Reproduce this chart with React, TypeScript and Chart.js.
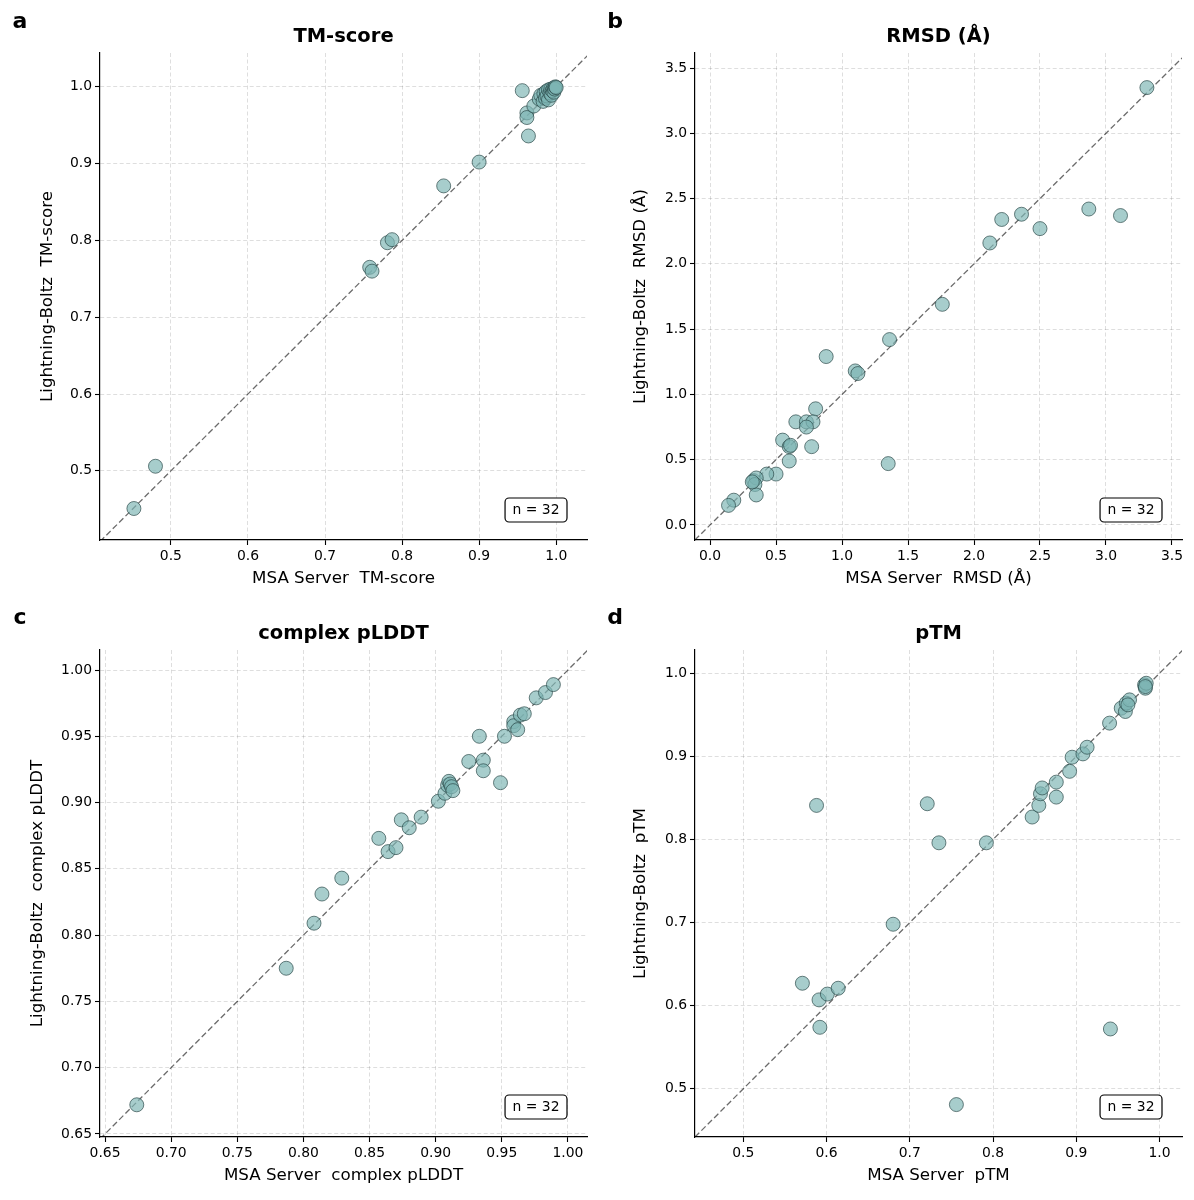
import React, { useEffect, useRef } from 'react';
import { Chart, registerables } from 'chart.js';

Chart.register(...registerables);

// ---------- Panel a: TM-score ----------
const tmMsa = [0.452, 0.480, 0.758, 0.761, 0.781, 0.787, 0.854, 0.900, 0.956, 0.962, 0.962, 0.964, 0.971,
  0.978, 0.980, 0.983, 0.984, 0.986, 0.987, 0.988, 0.990, 0.990, 0.992, 0.993, 0.994, 0.995, 0.996, 0.997, 0.998, 0.998, 0.999, 1.000];
const tmBoltz = [0.451, 0.506, 0.765, 0.760, 0.797, 0.801, 0.871, 0.902, 0.995, 0.966, 0.960, 0.936, 0.975,
  0.984, 0.989, 0.981, 0.991, 0.985, 0.994, 0.988, 0.996, 0.983, 0.992, 0.997, 0.989, 0.995, 0.998, 0.993, 0.999, 0.997, 1.000, 0.999];
const tmTicks = [0.5, 0.6, 0.7, 0.8, 0.9, 1.0];
const tmXRange = [0.408, 1.040];
const tmYRange = [0.410, 1.044];

// ---------- Panel b: RMSD ----------
const rmsdMsa = [3.31, 2.87, 3.11, 2.50, 2.36, 2.21, 2.12, 1.76, 1.36, 0.88, 1.10, 1.12, 0.80, 0.65, 0.73, 0.78,
  0.73, 0.55, 0.60, 0.61, 0.77, 0.60, 1.35, 0.50, 0.43, 0.33, 0.35, 0.34, 0.35, 0.18, 0.14, 0.32];
const rmsdBoltz = [3.35, 2.42, 2.37, 2.27, 2.38, 2.34, 2.16, 1.69, 1.42, 1.29, 1.18, 1.16, 0.89, 0.79, 0.79, 0.79,
  0.75, 0.65, 0.60, 0.61, 0.60, 0.49, 0.47, 0.39, 0.39, 0.34, 0.36, 0.31, 0.23, 0.19, 0.15, 0.33];
const rmsdTicks = [0.0, 0.5, 1.0, 1.5, 2.0, 2.5, 3.0, 3.5];
const rmsdXRange = [-0.114, 3.576];
const rmsdYRange = [-0.115, 3.615];

// ---------- Panel c: complex pLDDT ----------
const plddtMsa = [0.674, 0.787, 0.808, 0.814, 0.829, 0.857, 0.864, 0.870, 0.874, 0.880, 0.889, 0.902, 0.907, 0.909,
  0.910, 0.911, 0.912, 0.913, 0.925, 0.936, 0.936, 0.933, 0.949, 0.952, 0.959, 0.959, 0.962, 0.964, 0.967, 0.976, 0.983, 0.989];
const plddtBoltz = [0.672, 0.775, 0.809, 0.831, 0.843, 0.873, 0.863, 0.866, 0.887, 0.881, 0.889, 0.901, 0.907, 0.913,
  0.916, 0.914, 0.912, 0.909, 0.931, 0.932, 0.924, 0.950, 0.915, 0.950, 0.961, 0.958, 0.955, 0.966, 0.967, 0.979, 0.983, 0.989];
const plddtTicks = [0.65, 0.70, 0.75, 0.80, 0.85, 0.90, 0.95, 1.00];
const plddtXRange = [0.6462, 1.0144];
const plddtYRange = [0.6477, 1.0151];

// ---------- Panel d: pTM ----------
const ptmMsa = [0.588, 0.721, 0.735, 0.792, 0.680, 0.571, 0.591, 0.601, 0.614, 0.592, 0.756, 0.941, 0.847, 0.855,
  0.857, 0.859, 0.876, 0.876, 0.892, 0.895, 0.908, 0.913, 0.940, 0.954, 0.959, 0.960, 0.964, 0.962, 0.982, 0.983, 0.984, 0.983];
const ptmBoltz = [0.841, 0.843, 0.796, 0.796, 0.698, 0.627, 0.607, 0.614, 0.621, 0.574, 0.481, 0.572, 0.827, 0.841,
  0.855, 0.862, 0.851, 0.869, 0.882, 0.899, 0.903, 0.911, 0.940, 0.958, 0.954, 0.964, 0.968, 0.962, 0.986, 0.982, 0.988, 0.984];
const ptmTicks = [0.5, 0.6, 0.7, 0.8, 0.9, 1.0];
const ptmXRange = [0.442, 1.027];
const ptmYRange = [0.442, 1.028];

const nLabel = 'n = 32';

const FONT = "'DejaVu Sans', 'Liberation Sans', sans-serif";
const W = 597;
const H = 600;

type Area = { l: number; t: number; r: number; b: number };
type PanelDef = {
  letter: string;
  title: string;
  xLabel: string;
  yLabel: string;
  xs: number[];
  ys: number[];
  xRange: number[];
  yRange: number[];
  ticks: number[];
  decimals: number;
  pos: [number, number];
  area: Area;
  yLabelOffset: number;
  letterPos: [number, number];
};

const panels: PanelDef[] = [
  {
    letter: 'a', title: 'TM-score', xLabel: 'MSA Server  TM-score', yLabel: 'Lightning-Boltz  TM-score',
    xs: tmMsa, ys: tmBoltz, xRange: tmXRange, yRange: tmYRange, ticks: tmTicks, decimals: 1,
    pos: [0, 0], area: { l: 100, t: 53, r: 587, b: 540 }, yLabelOffset: 52, letterPos: [20, 22],
  },
  {
    letter: 'b', title: 'RMSD (Å)', xLabel: 'MSA Server  RMSD (Å)', yLabel: 'Lightning-Boltz  RMSD (Å)',
    xs: rmsdMsa, ys: rmsdBoltz, xRange: rmsdXRange, yRange: rmsdYRange, ticks: rmsdTicks, decimals: 1,
    pos: [597, 0], area: { l: 98, t: 53, r: 585, b: 540 }, yLabelOffset: 54, letterPos: [18, 22],
  },
  {
    letter: 'c', title: 'complex pLDDT', xLabel: 'MSA Server  complex pLDDT', yLabel: 'Lightning-Boltz  complex pLDDT',
    xs: plddtMsa, ys: plddtBoltz, xRange: plddtXRange, yRange: plddtYRange, ticks: plddtTicks, decimals: 2,
    pos: [0, 600], area: { l: 100, t: 50, r: 587, b: 537 }, yLabelOffset: 62, letterPos: [20, 18],
  },
  {
    letter: 'd', title: 'pTM', xLabel: 'MSA Server  pTM', yLabel: 'Lightning-Boltz  pTM',
    xs: ptmMsa, ys: ptmBoltz, xRange: ptmXRange, yRange: ptmYRange, ticks: ptmTicks, decimals: 1,
    pos: [597, 600], area: { l: 98, t: 50, r: 585, b: 537 }, yLabelOffset: 54, letterPos: [18, 18],
  },
];

function roundRect(ctx: CanvasRenderingContext2D, x: number, y: number, w: number, h: number, r: number) {
  ctx.beginPath();
  ctx.moveTo(x + r, y);
  ctx.lineTo(x + w - r, y);
  ctx.arcTo(x + w, y, x + w, y + r, r);
  ctx.lineTo(x + w, y + h - r);
  ctx.arcTo(x + w, y + h, x + w - r, y + h, r);
  ctx.lineTo(x + r, y + h);
  ctx.arcTo(x, y + h, x, y + h - r, r);
  ctx.lineTo(x, y + r);
  ctx.arcTo(x, y, x + r, y, r);
  ctx.closePath();
}

function PanelChart({ p }: { p: PanelDef }) {
  const ref = useRef<HTMLCanvasElement | null>(null);

  useEffect(() => {
    const canvas = ref.current;
    if (!canvas) return;
    const lo = Math.min(p.xRange[0], p.yRange[0]);
    const hi = Math.max(p.xRange[1], p.yRange[1]);
    const points = p.xs.map((x, i) => ({ x, y: p.ys[i] }));

    const overlay = {
      id: 'overlay' + p.letter,
      afterDraw(chart: any) {
        const ctx: CanvasRenderingContext2D = chart.ctx;
        const ca = chart.chartArea;
        ctx.save();
        ctx.fillStyle = '#000';
        // panel letter
        ctx.font = `bold 22px ${FONT}`;
        ctx.textAlign = 'center';
        ctx.textBaseline = 'middle';
        ctx.fillText(p.letter, p.letterPos[0], p.letterPos[1]);
        // title
        ctx.font = `bold 19.5px ${FONT}`;
        ctx.fillText(p.title, (ca.left + ca.right) / 2, ca.top - 16);
        // x label
        ctx.font = `16.7px ${FONT}`;
        ctx.fillText(p.xLabel, (ca.left + ca.right) / 2, ca.bottom + 39);
        // y label
        ctx.save();
        ctx.translate(ca.left - p.yLabelOffset, (ca.top + ca.bottom) / 2);
        ctx.rotate(-Math.PI / 2);
        ctx.fillText(p.yLabel, 0, 0);
        ctx.restore();
        // n box
        ctx.font = `13.9px ${FONT}`;
        const tw = ctx.measureText(nLabel).width;
        const bw = tw + 15;
        const bh = 24;
        const bx = ca.right - 20 - bw;
        const by = ca.bottom - 18 - bh;
        roundRect(ctx, bx, by, bw, bh, 4);
        ctx.fillStyle = '#fff';
        ctx.fill();
        ctx.lineWidth = 1.2;
        ctx.strokeStyle = '#000';
        ctx.stroke();
        ctx.fillStyle = '#000';
        ctx.fillText(nLabel, bx + bw / 2, by + bh / 2 + 0.5);
        ctx.restore();
      },
    };

    const tickCfg = {
      font: { family: FONT, size: 13.9 },
      color: '#000',
      padding: 3,
      autoSkip: false,
      maxRotation: 0,
      callback: (v: any) => Number(v).toFixed(p.decimals),
    };
    const gridCfg = {
      color: 'rgba(0,0,0,0.13)',
      lineWidth: 1,
      drawTicks: true,
      tickLength: 5,
      tickColor: '#000',
      tickWidth: 1.1,
      tickBorderDash: [],
    };
    const borderCfg = { display: true, color: '#000', width: 1.2, dash: [4, 2.5] };

    const chart = new Chart(canvas, {
      type: 'scatter',
      data: {
        datasets: [
          {
            type: 'scatter',
            data: points,
            backgroundColor: 'rgba(125,182,180,0.68)',
            borderColor: 'rgba(40,70,70,0.85)',
            borderWidth: 0.8,
            pointRadius: 7,
            order: 1,
          } as any,
          {
            type: 'line',
            data: [{ x: lo, y: lo }, { x: hi, y: hi }],
            borderColor: 'rgba(0,0,0,0.58)',
            borderWidth: 1.3,
            borderDash: [6, 3],
            pointRadius: 0,
            fill: false,
            order: 2,
          } as any,
        ],
      },
      options: {
        responsive: false,
        animation: false,
        devicePixelRatio: 1,
        layout: {
          padding: { left: 0, top: p.area.t, right: W - p.area.r, bottom: 0 },
        },
        plugins: {
          legend: { display: false },
          tooltip: { enabled: false },
          title: { display: false },
        },
        scales: {
          x: {
            type: 'linear',
            position: 'bottom',
            min: p.xRange[0],
            max: p.xRange[1],
            afterBuildTicks: (scale: any) => {
              scale.ticks = p.ticks.map((v) => ({ value: v }));
            },
            afterFit: (scale: any) => {
              scale.height = H - p.area.b;
              scale.paddingLeft = 0;
              scale.paddingRight = 0;
            },
            ticks: tickCfg,
            grid: gridCfg,
            border: borderCfg,
          },
          y: {
            type: 'linear',
            position: 'left',
            min: p.yRange[0],
            max: p.yRange[1],
            afterBuildTicks: (scale: any) => {
              scale.ticks = p.ticks.map((v) => ({ value: v }));
            },
            afterFit: (scale: any) => {
              scale.width = p.area.l;
              scale.paddingTop = 0;
              scale.paddingBottom = 0;
            },
            ticks: tickCfg,
            grid: gridCfg,
            border: borderCfg,
          },
        },
      } as any,
      plugins: [overlay],
    });
    return () => chart.destroy();
  }, [p]);

  return (
    <div style={{ position: 'absolute', left: p.pos[0], top: p.pos[1], width: W, height: H }}>
      <canvas ref={ref} width={W} height={H} style={{ width: W, height: H, display: 'block' }} />
    </div>
  );
}

export default function App() {
  return (
    <div style={{ position: 'absolute', left: 0, top: 0, width: 1194, height: 1200, background: '#fff' }}>
      {panels.map((p) => (
        <PanelChart key={p.letter} p={p} />
      ))}
    </div>
  );
}
